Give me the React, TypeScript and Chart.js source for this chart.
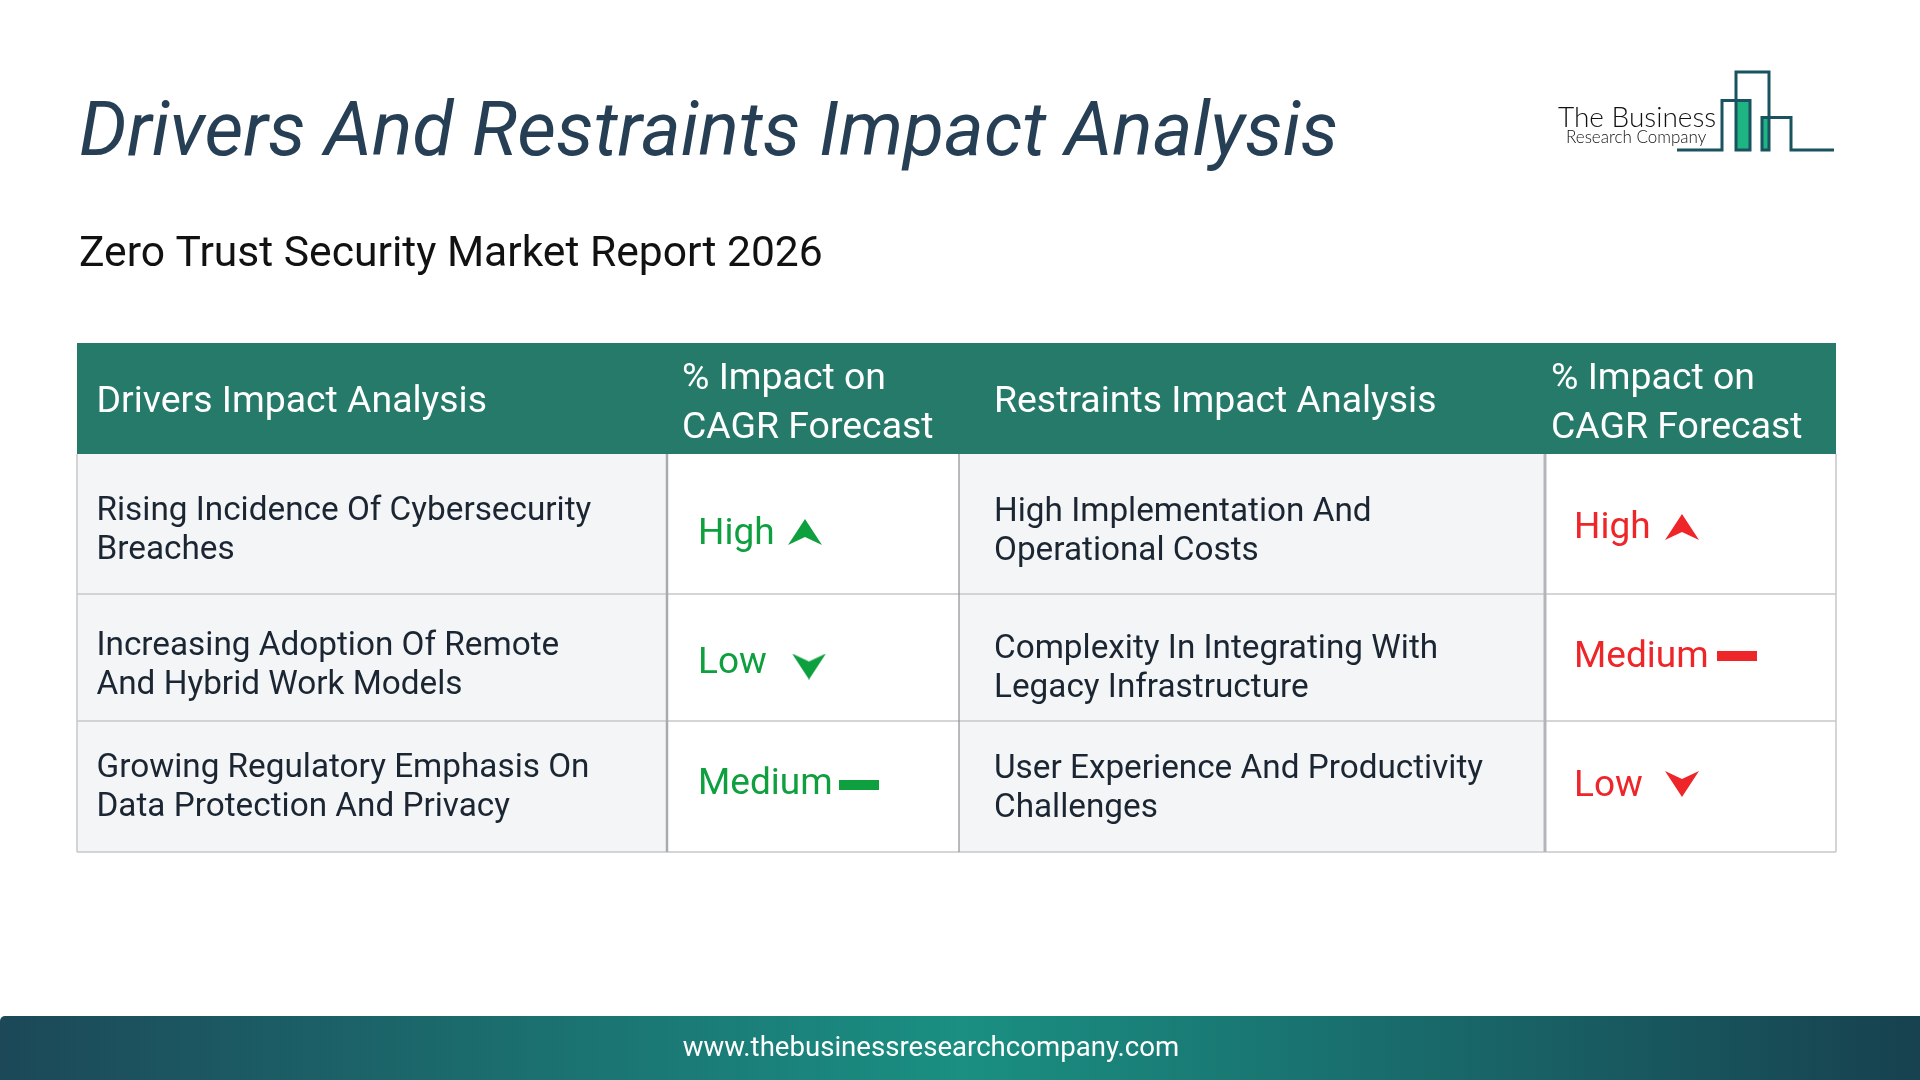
import React, { useEffect, useRef } from 'react';
import { Chart, registerables } from 'chart.js';

Chart.register(...registerables);

const titleText = 'Drivers And Restraints Impact Analysis';
const subtitleText = 'Zero Trust Security Market Report 2026';
const footerText = 'www.thebusinessresearchcompany.com';

const headers = ['Drivers Impact Analysis', '% Impact on|CAGR Forecast', 'Restraints Impact Analysis', '% Impact on|CAGR Forecast'];
const drivers = [
  'Rising Incidence Of Cybersecurity|Breaches',
  'Increasing Adoption Of Remote|And Hybrid Work Models',
  'Growing Regulatory Emphasis On|Data Protection And Privacy',
];
const driverLevels = ['High', 'Low', 'Medium'];
const restraints = [
  'High Implementation And|Operational Costs',
  'Complexity In Integrating With|Legacy Infrastructure',
  'User Experience And Productivity|Challenges',
];
const restraintLevels = ['High', 'Medium', 'Low'];

// table layout, in scale units (1 unit = 1px)
const colWidths = [590, 292, 586, 291];
const rowHeights = [111, 140, 127, 131];
const colStart = colWidths.map((_, i) => colWidths.slice(0, i).reduce((a, b) => a + b, 0));
const rowStart = rowHeights.map((_, i) => rowHeights.slice(0, i).reduce((a, b) => a + b, 0));
const tableW = colWidths.reduce((a, b) => a + b, 0);
const tableH = rowHeights.reduce((a, b) => a + b, 0);

const headerDx = [19.5, 15, 35, 6];
const nameDy = [[7.5, 8.5], [8.5, 11.5], [1.5, 2.5]]; // drivers / restraints nudges per row
const levelDy = [[11, 5], [6, 0], [-2, 0]];
const markerDy = [[8, 3], [9, -1.5], [-2, -2.5]];
const markerDx: Record<string, number[]> = { High: [138, 137], Low: [142, 137], Medium: [192, 192] };

const GREEN = '#0e9f3e';
const RED = '#ee2529';

function markerCanvas(kind: string, color: string) {
  const c = document.createElement('canvas');
  const dash = kind === 'Medium';
  c.width = dash ? 40 : 34;
  c.height = dash ? 10 : 26;
  const ctx = c.getContext('2d')!;
  ctx.fillStyle = color;
  if (dash) {
    ctx.fillRect(0, 0, 40, 10);
    return c;
  }
  ctx.beginPath();
  if (kind === 'High') {
    ctx.moveTo(17, 0);
    ctx.lineTo(34, 26);
    ctx.lineTo(17, 18);
    ctx.lineTo(0, 26);
  } else {
    ctx.moveTo(17, 26);
    ctx.lineTo(34, 0);
    ctx.lineTo(17, 8);
    ctx.lineTo(0, 0);
  }
  ctx.closePath();
  ctx.fill();
  return c;
}

function drawLines(ctx: CanvasRenderingContext2D, text: string, x: number, y: number, lh: number) {
  const parts = text.split('|');
  const top = y - ((parts.length - 1) * lh) / 2;
  parts.forEach((p, i) => ctx.fillText(p, x, top + i * lh));
}

const tablePlugin = {
  id: 'tablePlugin',
  beforeDatasetsDraw(chart: any) {
    const { ctx, scales } = chart;
    const px = (v: number) => scales.x.getPixelForValue(v);
    const py = (v: number) => scales.y.getPixelForValue(v);
    ctx.save();
    // cells
    for (let r = 1; r < rowHeights.length; r++) {
      colWidths.forEach((w, c) => {
        ctx.fillStyle = c % 2 === 0 ? '#f3f5f7' : '#ffffff';
        ctx.fillRect(px(colStart[c]), py(rowStart[r]), px(colStart[c] + w) - px(colStart[c]), py(rowStart[r] + rowHeights[r]) - py(rowStart[r]));
      });
    }
    // header band
    ctx.fillStyle = '#257a6a';
    ctx.fillRect(px(0), py(0), px(tableW) - px(0), py(rowHeights[0]) - py(0));
    // grid
    ctx.strokeStyle = '#c6c7ca';
    ctx.lineWidth = 1.5;
    for (let r = 2; r <= rowHeights.length; r++) {
      const y = r === rowHeights.length ? py(tableH) : py(rowStart[r]);
      ctx.beginPath();
      ctx.moveTo(px(0), y);
      ctx.lineTo(px(tableW), y);
      ctx.stroke();
    }
    const gridTop = py(rowHeights[0]);
    const gridBottom = py(tableH);
    const vLine = (v: number, color: string, width: number) => {
      ctx.strokeStyle = color;
      ctx.lineWidth = width;
      ctx.beginPath();
      ctx.moveTo(px(v), gridTop);
      ctx.lineTo(px(v), gridBottom);
      ctx.stroke();
    };
    vLine(0, '#c6c7ca', 1.5);
    vLine(colStart[1], '#a9aaad', 2.5);
    vLine(colStart[2], '#8d8e91', 1.2);
    vLine(colStart[3], '#b4b5b8', 3);
    vLine(tableW, '#c6c7ca', 1.5);

    ctx.textBaseline = 'middle';
    ctx.textAlign = 'left';
    // header text
    ctx.font = '400 37.4px Roboto';
    ctx.fillStyle = '#ffffff';
    headers.forEach((h, c) => {
      drawLines(ctx, h, px(colStart[c] + headerDx[c]), py(rowHeights[0] / 2 + (c % 2 === 0 ? 4 : 5.5)), 49);
    });
    // body text
    for (let r = 0; r < drivers.length; r++) {
      const mid = rowStart[r + 1] + rowHeights[r + 1] / 2;
      ctx.font = '400 33.3px Roboto';
      ctx.fillStyle = '#1b2632';
      drawLines(ctx, drivers[r], px(colStart[0] + 19.5), py(mid + nameDy[r][0]), 39);
      drawLines(ctx, restraints[r], px(colStart[2] + 35), py(mid + nameDy[r][1]), 39);
      ctx.font = '400 37px Roboto';
      ctx.fillStyle = GREEN;
      ctx.fillText(driverLevels[r], px(colStart[1] + 31), py(mid + levelDy[r][0]));
      ctx.fillStyle = RED;
      ctx.fillText(restraintLevels[r], px(colStart[3] + 29), py(mid + levelDy[r][1]));
    }
    ctx.restore();
  },
  afterDraw(chart: any) {
    const { ctx } = chart;
    ctx.save();
    // footer band
    const g = ctx.createLinearGradient(0, 0, 1920, 0);
    g.addColorStop(0, '#1c4858');
    g.addColorStop(0.5, '#1a8f82');
    g.addColorStop(1, '#17414f');
    ctx.fillStyle = g;
    ctx.beginPath();
    ctx.roundRect(0, 1016, 1920, 64, [5, 0, 0, 0]);
    ctx.fill();
    ctx.fillStyle = '#ffffff';
    ctx.font = '400 27.6px Roboto';
    ctx.textAlign = 'center';
    ctx.textBaseline = 'middle';
    ctx.fillText(footerText, 931, 1049);

    // logo
    ctx.fillStyle = '#1fb583';
    ctx.fillRect(1737, 102, 13, 48);
    ctx.fillRect(1763, 118, 6, 32);
    ctx.strokeStyle = '#1a5360';
    ctx.lineWidth = 3;
    ctx.lineJoin = 'miter';
    ctx.beginPath();
    const pts = [[1677, 150], [1722, 150], [1722, 100.5], [1750, 100.5], [1750, 150], [1736, 150], [1736, 72], [1769, 72], [1769, 150], [1762, 150], [1762, 117.5], [1791, 117.5], [1791, 150], [1834, 150]];
    pts.forEach((p, i) => (i ? ctx.lineTo(p[0], p[1]) : ctx.moveTo(p[0], p[1])));
    ctx.stroke();
    ctx.fillStyle = '#111111';
    ctx.textAlign = 'left';
    ctx.font = '300 28px Lato';
    ctx.fillText('The Business', 1558, 118);
    ctx.font = '300 17px Lato';
    ctx.fillText('Research Company', 1566, 137.5);
    ctx.restore();
  },
};

export default function App() {
  const canvasRef = useRef<HTMLCanvasElement | null>(null);

  useEffect(() => {
    if (!canvasRef.current) return;
    const points = (levels: string[], col: number, side: number) =>
      levels.map((l, r) => ({
        x: colStart[col] + markerDx[l][side],
        y: rowStart[r + 1] + rowHeights[r + 1] / 2 + markerDy[r][side],
      }));
    const chart = new Chart(canvasRef.current, {
      type: 'scatter',
      data: {
        datasets: [
          {
            data: points(driverLevels, 1, 0),
            pointStyle: driverLevels.map((l) => markerCanvas(l, GREEN)) as any,
            pointRadius: 10,
          },
          {
            data: points(restraintLevels, 3, 1),
            pointStyle: restraintLevels.map((l) => markerCanvas(l, RED)) as any,
            pointRadius: 10,
          },
        ],
      },
      options: {
        responsive: false,
        animation: false,
        devicePixelRatio: 1,
        layout: { padding: { left: 79, right: 84, top: 98, bottom: 228 } },
        scales: {
          // min of 2 keeps the titles 2px inside the table's left edge
          x: { type: 'linear', display: false, min: 2, max: tableW },
          y: { type: 'linear', display: false, reverse: true, min: 0, max: tableH },
        },
        plugins: {
          legend: { display: false },
          tooltip: { enabled: false },
          title: {
            display: true,
            text: titleText,
            align: 'start',
            color: '#263f55',
            font: { family: 'Roboto', size: 75.4, style: 'italic', weight: '400', lineHeight: 1 },
            padding: 0,
          },
          subtitle: {
            display: true,
            text: subtitleText,
            align: 'start',
            color: '#111111',
            font: { family: 'Roboto', size: 42.6, weight: '400', lineHeight: 1 },
            padding: { top: 61.1, bottom: 65.9 },
          },
        },
      },
      plugins: [tablePlugin],
    });
    return () => chart.destroy();
  }, []);

  return (
    <div style={{ position: 'absolute', left: 0, top: 0, width: 1920, height: 1080, background: '#ffffff' }}>
      <canvas ref={canvasRef} width={1920} height={1080} style={{ display: 'block' }} />
    </div>
  );
}
